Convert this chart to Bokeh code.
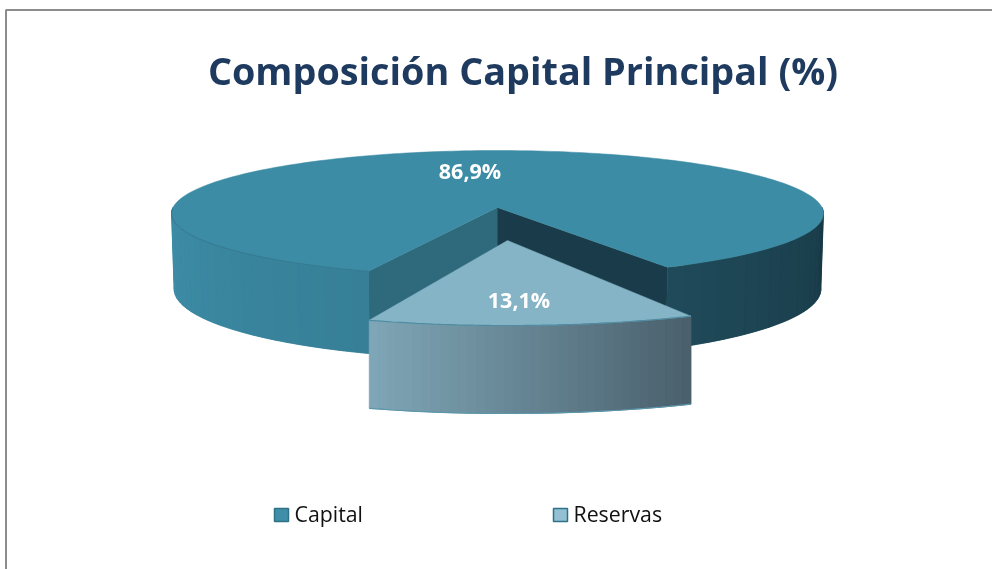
import math
from bokeh.core.properties import value
from bokeh.embed import file_html
from bokeh.models import Range1d
from bokeh.plotting import figure
from bokeh.resources import INLINE

# ---- data -------------------------------------------------------------
title_text = "Composición Capital Principal (%)"
categories = ["Capital", "Reservas"]
shares = [86.9, 13.1]
legend_fill = ["#3f8fa9", "#93c0d2"]
legend_line = ["#2f7288", "#2f7288"]

# ---- geometry of the drawing (screen pixels) ----------------------------
W, H = 992, 569
CX, CY = 497, 207          # apex of the main pie
A, B, K = 324.5, 62.4, 0.095   # projection of the main disc
DEPTH = 75                 # wall height of the main pie
WX, WY = 507, 240          # apex of the exploded slice
WA, WB = 403, 85           # semi-axes of the exploded slice
WDEPTH = 88
STRETCH = 1.06             # the back-set notch looks wider through perspective
OFFSET = 3.7               # bisector of the notch, degrees right of front
W_OFFSET = 3.5             # bisector of the exploded slice

TOP_MAIN = "#3d8ca5"
TOP_SLICE = "#85b4c6"
INNER_LEFT = "#2f6a7c"
INNER_RIGHT = "#1a3c4a"


def mix(c1, c2, t):
    a = [int(c1[i:i + 2], 16) for i in (1, 3, 5)]
    b = [int(c2[i:i + 2], 16) for i in (1, 3, 5)]
    return "#%02x%02x%02x" % tuple(round(u + (v - u) * t) for u, v in zip(a, b))


def main_pt(deg, depth=0.0):
    """deg: 0 = toward the viewer, positive to the right."""
    s, c = math.sin(math.radians(deg)), math.cos(math.radians(deg))
    d = 1 - K * c
    narrow = 0.992 if depth else 1.0
    return (CX + narrow * A * s / d, CY + B * c / d + depth * (1 / d))


def slice_pt(deg, depth=0.0):
    s, c = math.sin(math.radians(deg)), math.cos(math.radians(deg))
    return (WX + WA * s, WY + WB * c + depth)


def frange(a, b, n):
    return [a + (b - a) * i / n for i in range(n + 1)]


def strips(pt, d, a0, a1, n, c0, c1, overlap=1):
    xs, ys, cols = [], [], []
    ang = frange(a0, a1, n)
    for i in range(n):
        j = min(i + 1 + overlap, n)
        seg = frange(ang[i], ang[j], 4)
        top = [pt(t) for t in seg]
        bot = [pt(t, d) for t in reversed(seg)]
        poly = top + bot
        xs.append([q[0] for q in poly])
        ys.append([q[1] for q in poly])
        cols.append(mix(c0, c1, i / max(n - 1, 1)))
    return xs, ys, cols


# angle taken by the small slice comes from the value
true_span = 360 * shares[1] / sum(shares)
span = true_span * STRETCH
theta_r = OFFSET + span / 2
theta_l = OFFSET - span / 2
w_r = W_OFFSET + true_span / 2
w_l = W_OFFSET - true_span / 2

p = figure(width=W, height=H, x_range=Range1d(0, W), y_range=Range1d(H, 0),
           toolbar_location=None, output_backend="svg", min_border=0,
           background_fill_color="white", border_fill_color="white",
           outline_line_color=None)
p.axis.visible = False
p.grid.visible = False
p.styles = {"position": "fixed", "left": "0px", "top": "0px"}

# chart frame
p.line([5.5, 5.5, W], [H, 9.5, 9.5], line_color="#8c8c8c", line_width=2)

# inner cut walls of the main pie
apex_top = (CX, CY)
apex_bot = (CX, CY + DEPTH)
for deg, col in ((theta_l, INNER_LEFT), (theta_r, INNER_RIGHT)):
    a, b = main_pt(deg), main_pt(deg, DEPTH)
    poly = [apex_top, a, b, apex_bot]
    p.patch([q[0] for q in poly], [q[1] for q in poly], fill_color=col,
            line_color=col, line_width=0.5)

# outer walls of the main pie
for a0, a1, n, c0, c1 in ((-90, theta_l, 26, "#3f8ea8", "#367f97"),
                          (theta_r, 90, 18, "#1f4a59", "#193a47")):
    xs, ys, cols = strips(main_pt, DEPTH, a0, a1, n, c0, c1)
    p.patches(xs, ys, fill_color=cols, line_color=cols, line_width=0.5)

# top of the main pie
rim = [main_pt(t) for t in frange(theta_r, 360 + theta_l, 240)]
poly = [apex_top] + rim
p.patch([q[0] for q in poly], [q[1] for q in poly], fill_color=TOP_MAIN,
        line_color=TOP_MAIN, line_width=0.5)

# seam between the top and the left wall
seam = [main_pt(t) for t in frange(-90, theta_l, 50)]
p.line([q[0] for q in seam], [q[1] for q in seam], line_color="#35798f", line_width=1)

# exploded slice: wall
xs, ys, cols = strips(slice_pt, WDEPTH, w_l, w_r, 36, "#7fa6b6", "#4a606d")
p.patches(xs, ys, fill_color=cols, line_color=cols, line_width=0.5)
low = [slice_pt(t, WDEPTH) for t in frange(w_l, w_r, 40)]
p.line([q[0] for q in low], [q[1] for q in low], line_color="#5b97ab", line_width=1.2)

# exploded slice: top
rim = [slice_pt(t) for t in frange(w_l, w_r, 40)]
poly = [(WX, WY)] + rim
p.patch([q[0] for q in poly], [q[1] for q in poly], fill_color=TOP_SLICE,
        line_color=TOP_SLICE, line_width=0.5)
p.line([q[0] for q in rim], [q[1] for q in rim], line_color="#4f8ca1", line_width=1.2)

# value labels
labels = [f"{v:.1f}".replace(".", ",") + "%" for v in shares]
p.text([469.5, 518.5], [170, 298.5], text=labels, text_color="white",
       text_font=value("Open Sans"), text_font_style="bold", text_font_size="21.5px",
       text_align="center", text_baseline="middle")

# title
p.text([522.5], [70], text=[title_text], text_color="#1f3a5f",
       text_font=value("Open Sans"), text_font_style="bold", text_font_size="37.8px",
       text_align="center", text_baseline="middle")

# legend
leg_x = [274, 553]
p.quad(left=leg_x, right=[x + 14 for x in leg_x], top=[508, 508], bottom=[521, 521],
       fill_color=legend_fill, line_color=legend_line, line_width=1.5)
p.text([x + 20 for x in leg_x], [513, 513], text=categories, text_color="#111111",
       text_font=value("Open Sans"), text_font_size="21.3px",
       text_align="left", text_baseline="middle")

open("out.html", "w").write(file_html(p, INLINE))
